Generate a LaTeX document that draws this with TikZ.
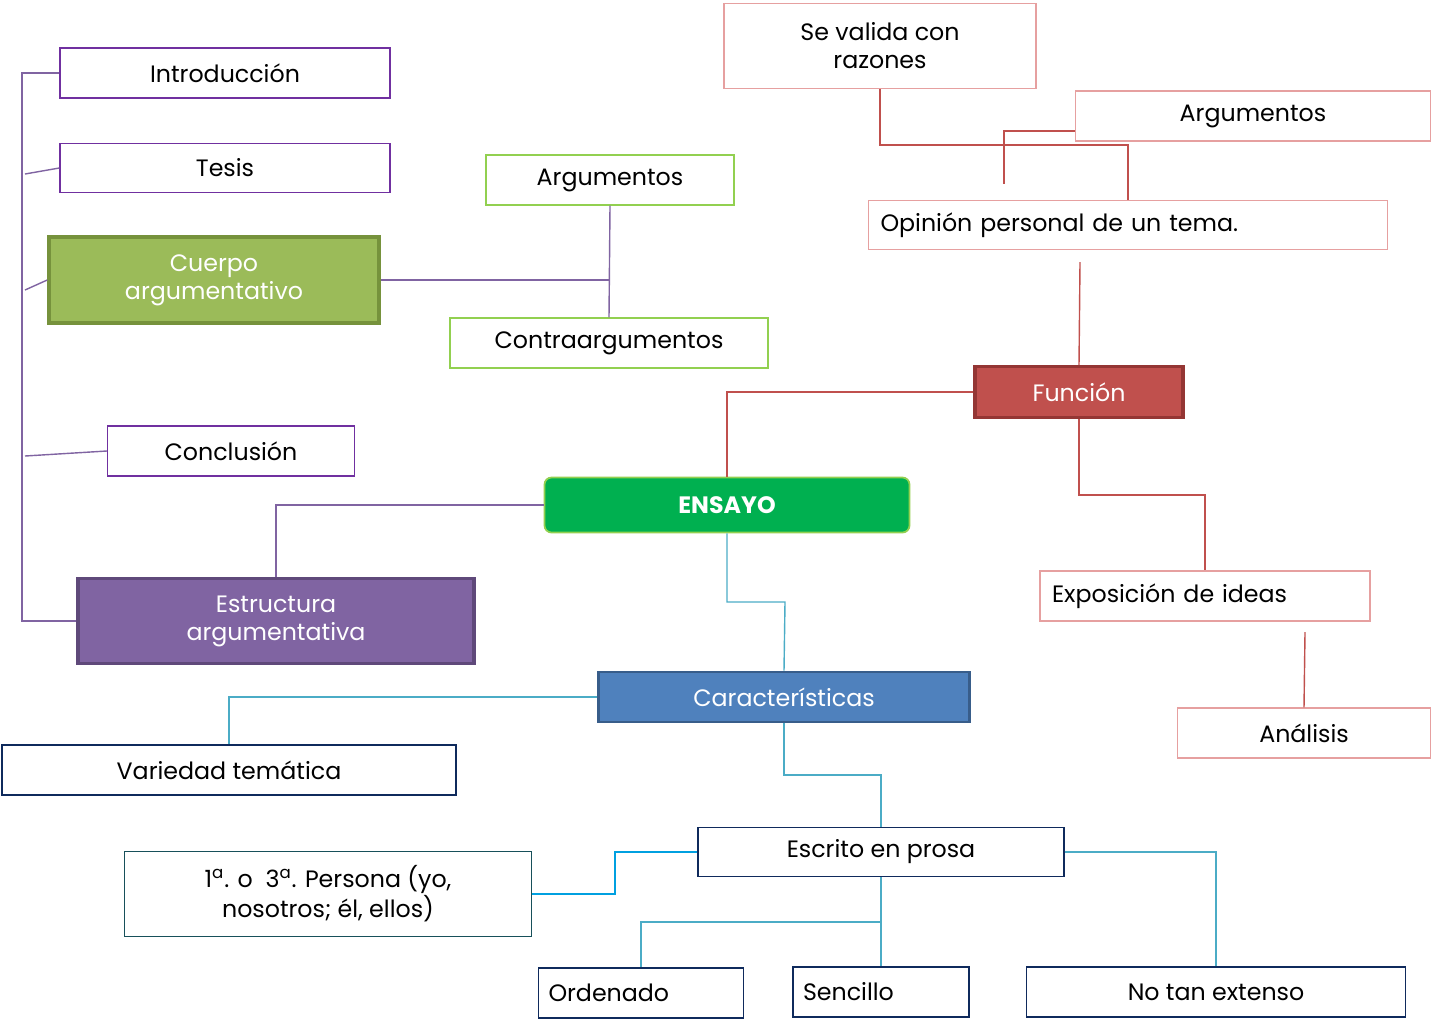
\documentclass[tikz,border=0pt]{standalone}
\usepackage{fontspec}
\setmainfont{Poppins}
\usetikzlibrary{positioning}
\definecolor{morado}{HTML}{7030A0}
\definecolor{lila}{HTML}{8064A2}
\definecolor{lilaosc}{HTML}{5F497A}
\definecolor{verde}{HTML}{9BBB59}
\definecolor{verdeosc}{HTML}{76923C}
\definecolor{verdecl}{HTML}{92D050}
\definecolor{ensayo}{HTML}{00B050}
\definecolor{rojo}{HTML}{C0504D}
\definecolor{rojoosc}{HTML}{943634}
\definecolor{rosa}{HTML}{E6A0A0}
\definecolor{azul}{HTML}{4F81BD}
\definecolor{azulosc}{HTML}{385D8A}
\definecolor{marino}{HTML}{0F2A5C}
\definecolor{cian}{HTML}{4BACC6}
\definecolor{celeste}{HTML}{00A0E0}
\definecolor{petroleo}{HTML}{17505A}

\begin{document}
\begin{tikzpicture}[x=0.02cm,y=-0.02cm,font=\fontsize{13.5}{16}\selectfont]
	\tikzstyle{box}=[draw,inner sep=2pt,align=center,line width=0.8pt]
	\tikzstyle{parte}=[box,draw=morado]
	\tikzstyle{verdebox}=[box,draw=verdecl]
	\tikzstyle{rosabox}=[box,draw=rosa]
	\tikzstyle{marinobox}=[box,draw=marino]
	\tikzstyle{main}=[box,line width=2pt,text=white]
	\tikzstyle{lnmorado}=[draw=lila,line width=0.8pt]
	\tikzstyle{lnrojo}=[draw=rojo,line width=0.8pt]
	\tikzstyle{lncian}=[draw=cian,line width=0.8pt]
	
	\useasboundingbox (0,0) rectangle (1432,1029);
	
	% Estructura
	\node[parte,minimum width=330*0.02cm,minimum height=50*0.02cm] (intro) at (225,73) {Introducción};
	\node[parte,minimum width=330*0.02cm,minimum height=49*0.02cm] (tesis) at (225,168) {Tesis};
	\node[main,fill=verde,draw=verdeosc,minimum width=330*0.02cm,minimum height=86*0.02cm] (cuerpo) at (214,280) {Cuerpo\\argumentativo};
	\node[parte,minimum width=247*0.02cm,minimum height=50*0.02cm] (concl) at (231,451) {Conclusión};
	\node[main,fill=lila,draw=lilaosc,minimum width=396*0.02cm,minimum height=85*0.02cm] (estr) at (276,621) {Estructura\\argumentativa};
	\node[verdebox,minimum width=248*0.02cm,minimum height=50*0.02cm] (arg) at (610,180) {Argumentos};
	\node[verdebox,minimum width=318*0.02cm,minimum height=50*0.02cm] (contra) at (609,343) {Contraargumentos};
	
	% Ensayo
	\node[main,fill=ensayo,draw=verdecl,line width=1pt,rounded corners=4pt,minimum width=365*0.02cm,minimum height=55*0.02cm,font=\fontsize{13.5}{16}\selectfont\bfseries] (ensayo) at (727,505) {ENSAYO};
	
	% Funcion
	\node[main,fill=rojo,draw=rojoosc,minimum width=208*0.02cm,minimum height=51*0.02cm] (funcion) at (1079,392) {Función};
	\node[rosabox,minimum width=312*0.02cm,minimum height=85*0.02cm] (valida) at (880,46) {Se valida con\\razones};
	\node[rosabox,minimum width=355*0.02cm,minimum height=50*0.02cm] (argr) at (1253,116) {Argumentos};
	\node[rosabox,minimum width=519*0.02cm,minimum height=49*0.02cm,text width=495*0.02cm,align=left] (opinion) at (1128,225) {Opinión personal de un tema.};
	\node[rosabox,minimum width=330*0.02cm,minimum height=50*0.02cm,text width=306*0.02cm,align=left] (expo) at (1205,596) {Exposición de ideas};
	\node[rosabox,minimum width=253*0.02cm,minimum height=50*0.02cm] (analisis) at (1304,733) {Análisis};
	\coordinate (fun-top) at (1080,262);
	\coordinate (arg-end) at (1004,184);
	\coordinate (expo-bot) at (1305,632);
	
	% Caracteristicas
	\node[main,fill=azul,draw=azulosc,line width=1.5pt,minimum width=371*0.02cm,minimum height=50*0.02cm] (carac) at (784,697) {Características};
	\node[marinobox,minimum width=454*0.02cm,minimum height=50*0.02cm] (variedad) at (229,770) {Variedad temática};
	\node[marinobox,minimum width=366*0.02cm,minimum height=49*0.02cm] (prosa) at (881,852) {Escrito en prosa};
	\node[box,draw=petroleo,minimum width=407*0.02cm,minimum height=85*0.02cm] (persona) at (328,894) {1\textsuperscript{a}. o~~3\textsuperscript{a}. Persona (yo,\\nosotros; él, ellos)};
	\node[marinobox,minimum width=205*0.02cm,minimum height=50*0.02cm,text width=185*0.02cm,align=left] (ordenado) at (641,993) {Ordenado};
	\node[marinobox,minimum width=176*0.02cm,minimum height=50*0.02cm,text width=156*0.02cm,align=left] (sencillo) at (881,992) {Sencillo};
	\node[marinobox,minimum width=379*0.02cm,minimum height=50*0.02cm] (extenso) at (1216,992) {No tan extenso};
	
	% Conectores de la estructura
	\path[lnmorado] (estr.west) -- (22,621) -- (22,73) -- (intro.west);
	\path[lnmorado] (25,174) -- (tesis.west);
	\path[lnmorado] (25,290) -- (cuerpo.west);
	\path[lnmorado] (25,456) -- (concl.west);
	\path[lnmorado] (cuerpo.east) -- (609,280);
	\path[lnmorado] (arg.south) -- (contra.north);
	\path[lnmorado] (ensayo.west) -| (estr.north);
	
	% Conectores de la funcion
	\path[lnrojo] (ensayo.north) |- (funcion.west);
	\path[lnrojo] (funcion.north) -- (fun-top);
	\path[lnrojo] (funcion.south) |- (1205,495) -- (expo.north);
	\path[lnrojo] (valida.south) |- (1128,145) -- (opinion.north);
	\path[lnrojo] (argr.west |- 0,131) -| (arg-end);
	\path[lnrojo] (expo-bot) -- (analisis.north);
	
	% Conectores de las caracteristicas
	\path[lncian] (ensayo.south) |- (785,602) -- (carac.north);
	\path[lncian] (carac.west) -| (variedad.north);
	\path[lncian] (carac.south) |- (881,775) -- (prosa.north);
	\path[draw=celeste,line width=0.8pt] (prosa.west) -| (615,894) -- (persona.east);
	\path[lncian] (prosa.south) -- (sencillo.north);
	\path[lncian] (881,922) -| (ordenado.north);
	\path[lncian] (prosa.east) -| (extenso.north);
\end{tikzpicture}
\end{document}
